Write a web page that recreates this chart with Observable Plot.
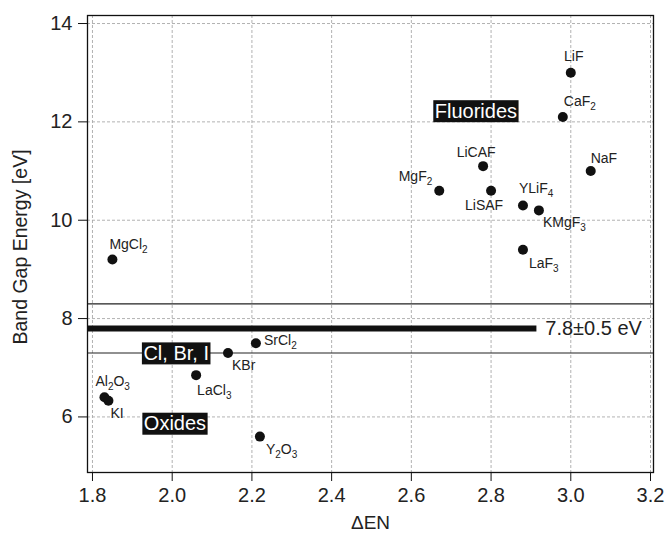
<!DOCTYPE html>
<html><head><meta charset="utf-8">
<script src="https://cdn.jsdelivr.net/npm/d3@7"></script>
<script src="https://cdn.jsdelivr.net/npm/@observablehq/plot@0.6"></script>
<style>body{margin:0;background:#fff}</style>
</head><body><div id="chart"></div>
<script>
// ---- data ----
const materials = ["LiF","CaF2","NaF","LiCAF","MgF2","LiSAF","YLiF4","KMgF3","LaF3","MgCl2","SrCl2","KBr","LaCl3","Al2O3","KI","Y2O3"];
const deltaEN   = [3.00, 2.98, 3.05, 2.78, 2.67, 2.80, 2.88, 2.92, 2.88, 1.85, 2.21, 2.14, 2.06, 1.83, 1.84, 2.22];
const bandGap   = [13.0, 12.1, 11.0, 11.1, 10.6, 10.6, 10.3, 10.2, 9.4, 9.2, 7.5, 7.3, 6.85, 6.4, 6.33, 5.6];
const xTicks = [1.8, 2.0, 2.2, 2.4, 2.6, 2.8, 3.0, 3.2];
const yTicks = [6, 8, 10, 12, 14];
const bandCenter = 7.8, bandHalf = 0.5, bandEnd = 2.915;
const bandText = "7.8±0.5 eV";
const groupNames = ["Fluorides", "Cl, Br, I", "Oxides"];
const groupX = [2.762, 2.01, 2.007];
const groupY = [12.215, 7.29, 5.86];

// label placement (presentation only): [dx, dy, anchor]
const place = {
  LiF:[3,-16,"middle"], CaF2:[1,-15,"start"], NaF:[0,-13,"start"], LiCAF:[-7,-14,"middle"],
  MgF2:[-7,-14,"end"], LiSAF:[-7,15,"middle"], YLiF4:[-4,-17,"start"], KMgF3:[4,12,"start"],
  LaF3:[6,14,"start"], MgCl2:[-3,-15,"start"], SrCl2:[8,-3,"start"], KBr:[4,13,"start"],
  LaCl3:[1,15,"start"], Al2O3:[-9,-16,"start"], KI:[2,13,"start"], Y2O3:[6,13,"start"]
};

const points = materials.map((m,i)=>({name:m, x:deltaEN[i], y:bandGap[i]}));
const groups = groupNames.map((g,i)=>({name:g, x:groupX[i], y:groupY[i]}));
const xDom = [1.7875, 3.2075];

const chart = Plot.plot({
  width:665, height:539, marginLeft:87, marginRight:12, marginTop:15, marginBottom:67,
  style:{fontFamily:"'Liberation Sans', Arial, sans-serif", background:"#fff", color:"#111"},
  x:{domain:xDom},
  y:{domain:[4.87, 14.163]},
  marks:[
    Plot.gridX(xTicks, {stroke:"#aaa", strokeOpacity:0.9, strokeDasharray:"3,2"}),
    Plot.gridY(yTicks, {stroke:"#aaa", strokeOpacity:0.9, strokeDasharray:"3,2"}),
    Plot.ruleY([bandCenter+bandHalf, bandCenter-bandHalf], {stroke:"#222", strokeWidth:1.2}),
    Plot.ruleY([bandCenter], {x1:xDom[0], x2:bandEnd, stroke:"#111", strokeWidth:6}),
    Plot.text([bandText], {x:bandEnd+0.021, y:bandCenter, text:d=>d, textAnchor:"start", fontSize:20, fill:"#222"}),
    Plot.dot(points, {x:"x", y:"y", r:5, fill:"#111"}),
    ...points.map(p => Plot.text([p], {x:"x", y:"y", text:"name", dx:place[p.name][0], dy:place[p.name][1],
        textAnchor:place[p.name][2], fontSize:14, fill:"#222", className:"ptlabel"})),
    Plot.text(groups, {x:"x", y:"y", text:"name", fontSize:20, fill:"#fff", className:"boxlabel"}),
    Plot.frame({stroke:"#111", strokeWidth:1.3}),
    Plot.axisX(xTicks, {tickSize:9, tickPadding:6, fontSize:20, label:null, fill:"#222", tickFormat:d=>d.toFixed(1)}),
    Plot.axisY(yTicks, {tickSize:9, tickPadding:6, fontSize:20, label:null, fill:"#222", tickFormat:d=>String(d)}),
    Plot.text(["ΔEN"], {frameAnchor:"bottom", dy:56, fontSize:19, fill:"#222", text:d=>d}),
    Plot.text(["Band Gap Energy [eV]"], {frameAnchor:"left", textAnchor:"middle", dx:-67, dy:3, rotate:-90, fontSize:19.5, fill:"#222", text:d=>d})
  ]
});
document.getElementById("chart").appendChild(chart);

// subscripts for chemical formulas
chart.querySelectorAll("g.ptlabel text").forEach(t => {
  const s = t.textContent; t.textContent = "";
  const ns = "http://www.w3.org/2000/svg";
  let sub = false;
  for (const part of s.match(/\d+|\D+/g)) {
    const ts = document.createElementNS(ns, "tspan");
    ts.textContent = part;
    if (/\d/.test(part)) { ts.setAttribute("font-size", "10"); ts.setAttribute("dy", "4"); sub = true; }
    else if (sub) { ts.setAttribute("dy", "-4"); sub = false; }
    t.appendChild(ts);
  }
});
// black boxes behind group labels
chart.querySelectorAll("g.boxlabel text").forEach(t => {
  const b = t.getBBox();
  const r = document.createElementNS("http://www.w3.org/2000/svg", "rect");
  r.setAttribute("x", b.x - 1.5); r.setAttribute("y", b.y + 0.5);
  r.setAttribute("width", b.width + 3); r.setAttribute("height", b.height);
  r.setAttribute("fill", "#111");
  const tr = t.getAttribute("transform"); if (tr) r.setAttribute("transform", tr);
  t.parentNode.insertBefore(r, t);
});
</script></body></html>
